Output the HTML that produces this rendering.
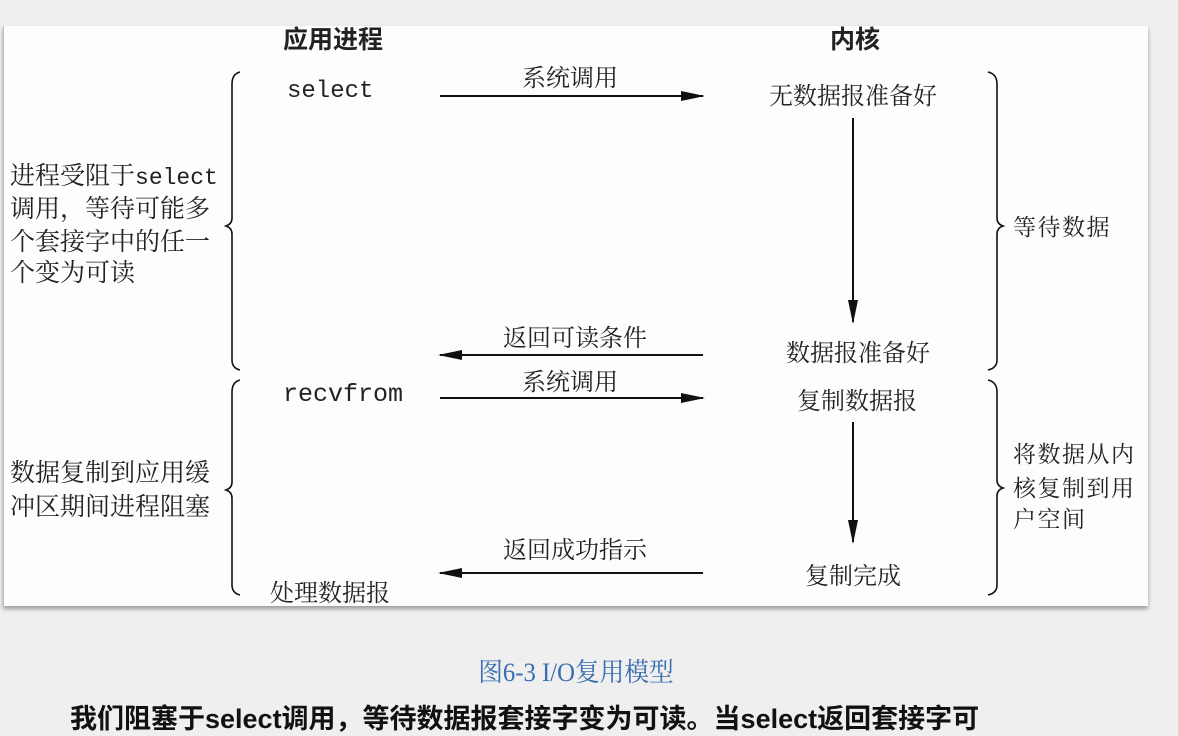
<!DOCTYPE html>
<html><head><meta charset="utf-8"><style>
html,body{margin:0;padding:0;background:#efefef;width:1178px;height:704px;overflow:hidden}
.panel{position:absolute;left:3px;top:26px;width:1144px;height:580px;background:#fdfdfd;box-shadow:0 3px 4px rgba(0,0,0,0.35);border-left:1px solid #bbb}
svg{position:absolute;left:0;top:0}
.cap{position:absolute;top:652px;left:0;width:1152px;text-align:center;color:#3a6db0;font:26px "Liberation Serif","Noto Serif CJK SC",serif;transform:scaleX(0.95)}
.bt{position:absolute;top:697px;left:70px;white-space:nowrap;font:bold 27px "Liberation Sans","Noto Sans CJK SC",sans-serif;color:#111}
</style></head><body>
<div class="panel"></div>
<svg width="1178" height="704" font-family="'Liberation Serif','Noto Serif CJK SC',serif" font-size="24" fill="#222">
<defs><marker id="a" markerWidth="24" markerHeight="10" refX="22" refY="5" orient="auto" markerUnits="userSpaceOnUse"><path d="M0,0 L24,5 L0,10 Z" fill="#111"/></marker></defs>
<text x="283" y="48" font-family="'Liberation Sans','Noto Sans CJK SC',sans-serif" font-weight="bold" font-size="25">应用进程</text>
<text x="830" y="48" font-family="'Liberation Sans','Noto Sans CJK SC',sans-serif" font-weight="bold" font-size="25">内核</text>
<text x="287" y="97" font-family="'Liberation Mono',monospace" font-size="24">select</text>
<text x="283" y="401" font-family="'Liberation Mono',monospace" font-size="25">recvfrom</text>
<g stroke="#111" stroke-width="2" fill="none">
<line x1="440" y1="96" x2="703" y2="96" marker-end="url(#a)"/>
<line x1="703" y1="355" x2="440" y2="355" marker-end="url(#a)"/>
<line x1="440" y1="398" x2="703" y2="398" marker-end="url(#a)"/>
<line x1="703" y1="573" x2="440" y2="573" marker-end="url(#a)"/>
<line x1="853" y1="118" x2="853" y2="322" marker-end="url(#a)"/>
<line x1="853" y1="422" x2="853" y2="542" marker-end="url(#a)"/>
<path d="M240,72 Q232,74 232,84 L232,218 Q232,224 226,226 Q232,228 232,234 L232,360 Q232,368 240,370" stroke-width="1.6"/>
<path d="M240,380 Q232,382 232,392 L232,482 Q232,488 226,490 Q232,492 232,498 L232,585 Q232,593 240,595" stroke-width="1.6"/>
<path d="M988,72 Q997,74 997,84 L997,218 Q997,224 1003,226 Q997,228 997,234 L997,360 Q997,368 988,370" stroke-width="1.6"/>
<path d="M988,380 Q997,382 997,392 L997,480 Q997,486 1003,488 Q997,490 997,496 L997,585 Q997,593 988,595" stroke-width="1.6"/>
</g>
<text x="570" y="86" text-anchor="middle">系统调用</text>
<text x="575" y="346" text-anchor="middle">返回可读条件</text>
<text x="570" y="390" text-anchor="middle">系统调用</text>
<text x="575" y="558" text-anchor="middle">返回成功指示</text>
<text x="853" y="104" text-anchor="middle">无数据报准备好</text>
<text x="858" y="361" text-anchor="middle">数据报准备好</text>
<text x="857" y="409" text-anchor="middle">复制数据报</text>
<text x="853" y="584" text-anchor="middle">复制完成</text>
<text x="270" y="601">处理数据报</text>
<g font-size="25">
<text x="10" y="184">进程受阻于<tspan font-family="'Liberation Mono',monospace" font-size="23">select</tspan></text>
<text x="10" y="217">调用，等待可能多</text>
<text x="10" y="250">个套接字中的任一</text>
<text x="10" y="281">个变为可读</text>
<text x="10" y="481">数据复制到应用缓</text>
<text x="10" y="515">冲区期间进程阻塞</text>
</g>
<g font-size="23" letter-spacing="1.5">
<text x="1013" y="235">等待数据</text>
<text x="1013" y="462">将数据从内</text>
<text x="1013" y="496">核复制到用</text>
<text x="1013" y="527">户空间</text>
</g>
</svg>
<div class="cap">图6-3 I/O复用模型</div>
<div class="bt">我们阻塞于select调用，等待数据报套接字变为可读。当select返回套接字可</div>
</body></html>
